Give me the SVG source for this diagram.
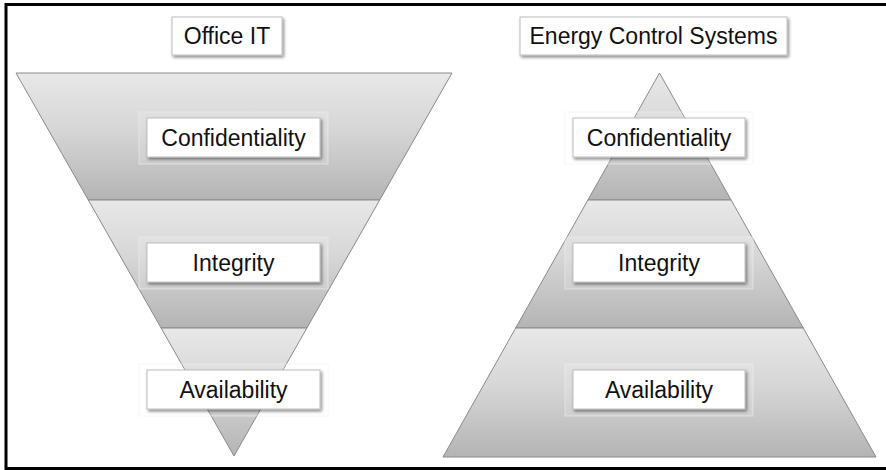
<svg xmlns="http://www.w3.org/2000/svg" width="886" height="470" viewBox="0 0 886 470">
  <defs>
    <linearGradient id="band" x1="0" y1="0" x2="0" y2="1">
      <stop offset="0" stop-color="#e8e8e8"/>
      <stop offset="0.45" stop-color="#d6d6d6"/>
      <stop offset="1" stop-color="#b4b4b4"/>
    </linearGradient>
    <filter id="shadow" x="-10%" y="-20%" width="125%" height="150%">
      <feDropShadow dx="1.5" dy="2" stdDeviation="1.5" flood-color="#000" flood-opacity="0.45"/>
    </filter>
  </defs>
  <style>
    .band { fill: url(#band); stroke: #8a8a8a; stroke-width: 1; stroke-linejoin: round; }
    .glow { fill: #ffffff; fill-opacity: 0.15; stroke: #f0f0f0; stroke-opacity: 0.6; stroke-width: 1; }
    .box { fill: #ffffff; stroke: #bdbdbd; stroke-width: 1; filter: url(#shadow); }
    .lbl { font-family: "Liberation Sans", Arial, sans-serif; font-size: 23px; fill: #111111; text-anchor: middle; }
    .frame { fill: none; stroke: #000000; stroke-width: 3; }
  </style>

  <rect width="886" height="470" fill="#ffffff"/>
  <path class="frame" d="M 890 4.5 H 6 V 468.5 H 890"/>

  <!-- Left: Office IT inverted pyramid -->
  <g id="office-it-funnel">
    <polygon class="band" points="16,73 452,73 379.7,200 88.3,200"/>
    <polygon class="band" points="88.3,200 379.7,200 306.9,328 161.1,328"/>
    <polygon class="band" points="161.1,328 306.9,328 234,456"/>
  </g>

  <!-- Right: Energy Control Systems pyramid -->
  <g id="ecs-pyramid">
    <polygon class="band" points="659.5,73 731.1,200 587.9,200"/>
    <polygon class="band" points="587.9,200 731.1,200 803.3,328 515.7,328"/>
    <polygon class="band" points="515.7,328 803.3,328 876,457 443,457"/>
  </g>

  <g id="title-office-it">
    <rect class="box" x="172" y="17" width="110" height="38"/>
    <text class="lbl" x="227" y="44">Office IT</text>
  </g>
  <g id="title-ecs">
    <rect class="box" x="520" y="17" width="267" height="38"/>
    <text class="lbl" x="653.5" y="44">Energy Control Systems</text>
  </g>

  <g id="left-confidentiality">
    <rect class="glow" x="139" y="112" width="189" height="52"/>
    <rect class="box" x="147" y="118" width="173" height="39"/>
    <text class="lbl" x="233.5" y="145.5">Confidentiality</text>
  </g>
  <g id="left-integrity">
    <rect class="glow" x="139" y="237" width="189" height="52"/>
    <rect class="box" x="147" y="243" width="173" height="39"/>
    <text class="lbl" x="233.5" y="270.5">Integrity</text>
  </g>
  <g id="left-availability">
    <rect class="glow" x="139" y="364" width="189" height="52"/>
    <rect class="box" x="147" y="370" width="173" height="39"/>
    <text class="lbl" x="233.5" y="397.5">Availability</text>
  </g>

  <g id="right-confidentiality">
    <rect class="glow" x="565" y="112" width="188" height="52"/>
    <rect class="box" x="573" y="118" width="172" height="39"/>
    <text class="lbl" x="659" y="145.5">Confidentiality</text>
  </g>
  <g id="right-integrity">
    <rect class="glow" x="565" y="237" width="188" height="52"/>
    <rect class="box" x="573" y="243" width="172" height="39"/>
    <text class="lbl" x="659" y="270.5">Integrity</text>
  </g>
  <g id="right-availability">
    <rect class="glow" x="565" y="364" width="188" height="52"/>
    <rect class="box" x="573" y="370" width="172" height="39"/>
    <text class="lbl" x="659" y="397.5">Availability</text>
  </g>
</svg>
